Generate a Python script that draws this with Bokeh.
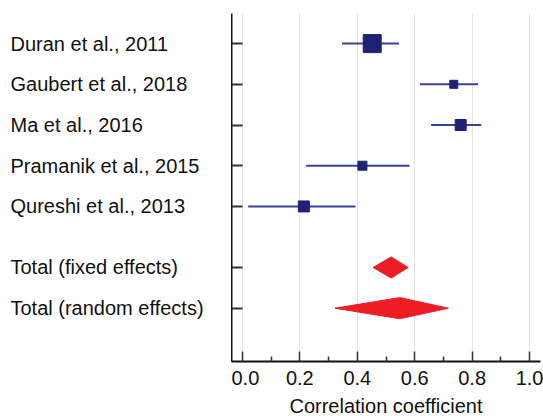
from bokeh.plotting import figure
from bokeh.layouts import row
from bokeh.models import Range1d, FixedTicker, ColumnDataSource, CustomLabelingPolicy
from bokeh.core.properties import value
from bokeh.embed import file_html
from bokeh.resources import INLINE

# ---- data ----
studies = ["Duran et al., 2011", "Gaubert et al., 2018", "Ma et al., 2016",
           "Pramanik et al., 2015", "Qureshi et al., 2013"]
study_rows = [0, 1, 2, 3, 4]
study_est = [0.452, 0.736, 0.760, 0.418, 0.214]
study_lo = [0.347, 0.618, 0.657, 0.222, 0.020]
study_hi = [0.545, 0.821, 0.832, 0.582, 0.394]
study_weight_size = [18, 8, 11, 9, 11]

totals = ["Total (fixed effects)", "Total (random effects)"]
total_rows = [5.5, 6.5]
total_est = [0.518, 0.548]
total_lo = [0.455, 0.322]
total_hi = [0.577, 0.717]

x_ticks = [0.0, 0.2, 0.4, 0.6, 0.8, 1.0]
x_minor = [0.1, 0.3, 0.5, 0.7, 0.9]
x_label = "Correlation coefficient"

FONT = "Liberation Sans"
FS = "20px"
NAVY = "#1f2272"
LINE = "#3d4099"
RED = "#ee1c25"

yr = Range1d(7.81, -0.74)
FH = 348
TOP = 13

# ---- label panel ----
lab = figure(frame_width=231, frame_height=FH, x_range=Range1d(0, 1), y_range=yr,
             output_backend="svg", toolbar_location=None,
             x_axis_location=None, y_axis_location=None,
             min_border_top=TOP, min_border_left=0, min_border_right=0, min_border_bottom=0)
lab.outline_line_color = None
lab.grid.visible = False
all_labels = studies + totals
all_rows = study_rows + total_rows
lab.text(x=[0] * len(all_labels), y=all_rows, text=all_labels, x_offset=10,
         text_font=value(FONT), text_font_size=FS, text_baseline="middle",
         text_align="left", text_color="#111111")

# ---- main panel ----
p = figure(frame_width=309, frame_height=FH, x_range=Range1d(-0.038, 1.038), y_range=yr,
           output_backend="svg", toolbar_location=None,
           min_border_top=TOP, min_border_left=0, min_border_right=3, min_border_bottom=0)
p.outline_line_color = None

p.xaxis.ticker = FixedTicker(ticks=x_ticks, minor_ticks=x_minor)
p.xaxis.major_label_overrides = {t: f"{t:.1f}" for t in x_ticks}
p.xaxis.axis_label = x_label
p.xaxis.axis_label_text_font = FONT
p.xaxis.axis_label_text_font_size = FS
p.xaxis.axis_label_text_font_style = "normal"
p.xaxis.axis_label_text_color = "#111111"
p.xaxis.axis_label_standoff = 7
p.xaxis.major_label_text_font = FONT
p.xaxis.major_label_text_font_size = FS
p.xaxis.major_label_text_color = "#111111"
p.xaxis.major_label_standoff = 9
p.xaxis.major_tick_in = 10
p.xaxis.major_tick_out = 0
p.xaxis.minor_tick_in = 5
p.xaxis.minor_tick_out = 0
p.xaxis.axis_line_width = 2
p.xaxis.major_tick_line_width = 1.5
p.xaxis.minor_tick_line_width = 1.5
p.xaxis.axis_line_color = "#111111"
p.xaxis.major_tick_line_color = "#333333"
p.xaxis.minor_tick_line_color = "#333333"

p.yaxis.ticker = FixedTicker(ticks=all_rows, minor_ticks=[])
p.yaxis.major_label_text_font_size = "0px"
p.yaxis.major_label_policy = CustomLabelingPolicy(code="""
    for (const i of Array.from(indices)) indices.unset(i)
    return indices
""")
p.yaxis.major_label_standoff = 0
p.yaxis.major_tick_in = 11
p.yaxis.major_tick_out = 0
p.yaxis.axis_line_width = 2
p.yaxis.axis_line_color = "#111111"
p.yaxis.major_tick_line_color = "#333333"
p.yaxis.major_tick_line_width = 2

p.xgrid.ticker = FixedTicker(ticks=x_ticks)
p.xgrid.grid_line_color = "#e4e4e4"
p.ygrid.visible = False

src = ColumnDataSource(dict(y=study_rows, est=study_est, lo=study_lo, hi=study_hi,
                            size=study_weight_size))
p.segment(x0="lo", x1="hi", y0="y", y1="y", source=src, line_color=LINE, line_width=2)
p.scatter(x="est", y="y", size="size", marker="square", source=src,
          fill_color=NAVY, line_color=NAVY)

half_h = 0.26
xs = [[lo, e, hi, e] for lo, e, hi in zip(total_lo, total_est, total_hi)]
ys = [[r, r - half_h, r, r + half_h] for r in total_rows]
p.patches(xs=xs, ys=ys, fill_color=RED, line_color=RED, line_width=1)

layout = row(lab, p, spacing=0)
open("out.html", "w").write(file_html(layout, INLINE))
